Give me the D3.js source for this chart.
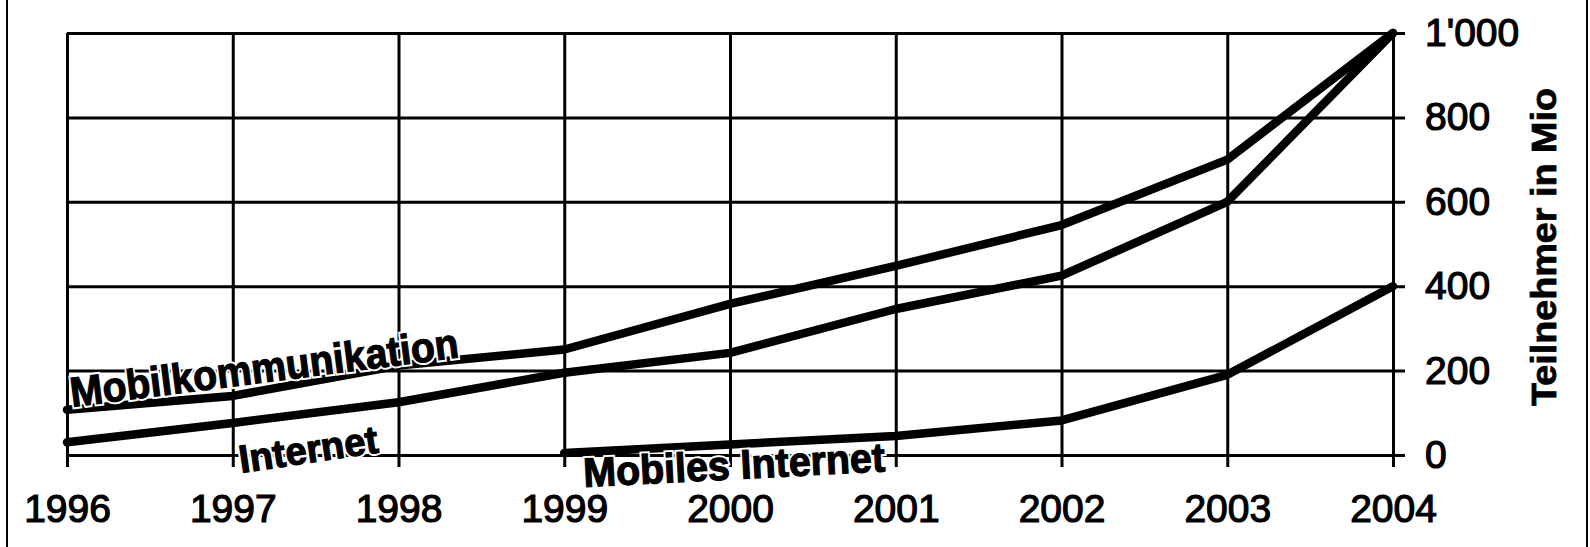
<!DOCTYPE html>
<html>
<head>
<meta charset="utf-8">
<script src="https://cdn.jsdelivr.net/npm/d3@7"></script>
<style>
  body { margin: 0; background: #fff; }
  svg { display: block; }
</style>
</head>
<body>
<div id="viz-container"></div>
<script>
// values (Teilnehmer in Mio)
const years = [1996, 1997, 1998, 1999, 2000, 2001, 2002, 2003, 2004];
const mobilkommunikation = [107, 140, 212, 250, 358, 448, 545, 700, 1000];
const internet = [30, 76, 125, 195, 242, 346, 425, 600, 1000];
const mobilesInternetYears = [1999, 2000, 2001, 2002, 2003, 2004];
const mobilesInternet = [5, 25, 45, 82, 190, 400];
const yTicks = [0, 200, 400, 600, 800, 1000];
const seriesNames = ["Mobilkommunikation", "Internet", "Mobiles Internet"];
const yTitle = "Teilnehmer in Mio";

const W = 1590, H = 547;
const FONT = "'Liberation Sans', Arial, sans-serif";

const svg = d3.select("#viz-container")
    .append("svg")
    .attr("width", W)
    .attr("height", H);

svg.append("rect").attr("width", W).attr("height", H).attr("fill", "#fff");

// page frame (left / right edges of the scan)
svg.append("line").attr("x1", 7).attr("x2", 7).attr("y1", 0).attr("y2", H)
    .attr("stroke", "#000").attr("stroke-width", 2);
svg.append("line").attr("x1", 1587).attr("x2", 1587).attr("y1", 0).attr("y2", H)
    .attr("stroke", "#000").attr("stroke-width", 2);

// scales
const x = d3.scaleLinear().domain([1996, 2004]).range([67, 1393]);
const y = d3.scaleLinear().domain([0, 1000]).range([455, 33]);

const fmt = d3.formatLocale({ decimal: ".", thousands: "'", grouping: [3], currency: ["", ""] }).format(",");

// x axis with full-height grid lines (ticks poke 12px below the zero line)
const xAxisY = y(0) + 12;
const xAxis = svg.append("g")
    .attr("transform", `translate(0,${xAxisY})`)
    .call(d3.axisBottom(x)
        .tickValues(years)
        .tickFormat(d3.format("d"))
        .tickSizeInner(-(xAxisY - y(1000)))
        .tickSizeOuter(0)
        .tickPadding(27));

// y axis on the right, grid lines run from the 1996 line to past 2004
const yAxis = svg.append("g")
    .attr("transform", `translate(${x(1996)},0)`)
    .call(d3.axisRight(y)
        .tickValues(yTicks)
        .tickFormat(fmt)
        .tickSizeInner(1405 - x(1996))
        .tickSizeOuter(0)
        .tickPadding(20));

[xAxis, yAxis].forEach(g => {
    g.select(".domain").remove();
    g.selectAll(".tick line").attr("stroke", "#000").attr("stroke-width", 3);
    g.selectAll(".tick text")
        .attr("fill", "#000")
        .attr("stroke", "#000")
        .attr("stroke-width", 1.2)
        .style("font-family", FONT)
        .style("font-size", "39px");
});

// series lines
const line = d3.line()
    .x(d => x(d[0]))
    .y(d => y(d[1]));

const series = [
    d3.zip(years, mobilkommunikation),
    d3.zip(years, internet),
    d3.zip(mobilesInternetYears, mobilesInternet)
];

svg.append("g")
    .selectAll("path")
    .data(series)
    .join("path")
    .attr("fill", "none")
    .attr("stroke", "#000")
    .attr("stroke-width", 8.5)
    .attr("stroke-linejoin", "round")
    .attr("stroke-linecap", "round")
    .attr("d", line);

// in-chart series labels (tilted like the scan)
const labelPos = [
    { x: 72, y: 407, rot: -7.3, len: 391, size: 42 },
    { x: 241, y: 473, rot: -8.5, len: 140, size: 39 },
    { x: 584, y: 487, rot: -3, len: 302, size: 41 }
];

const labels = svg.append("g");
// white halo first, then heavy black text on top
["halo", "ink"].forEach(layer => {
    labels.append("g")
        .selectAll("text")
        .data(seriesNames)
        .join("text")
        .attr("transform", (d, i) => `translate(${labelPos[i].x},${labelPos[i].y}) rotate(${labelPos[i].rot})`)
        .attr("textLength", (d, i) => labelPos[i].len)
        .attr("lengthAdjust", "spacingAndGlyphs")
        .style("font-family", FONT)
        .style("font-weight", "bold")
        .style("font-size", (d, i) => labelPos[i].size + "px")
        .attr("fill", "#000")
        .attr("stroke", layer === "halo" ? "#fff" : "#000")
        .attr("stroke-width", layer === "halo" ? 5 : 1.2)
        .text(d => d);
});

// y axis title
svg.append("text")
    .attr("transform", `translate(1556,247) rotate(-90)`)
    .attr("text-anchor", "middle")
    .attr("textLength", 318)
    .attr("lengthAdjust", "spacingAndGlyphs")
    .style("font-family", FONT)
    .style("font-weight", "bold")
    .style("font-size", "35px")
    .attr("fill", "#000")
    .attr("stroke", "#000")
    .attr("stroke-width", 0.8)
    .text(yTitle);
</script>
</body>
</html>
